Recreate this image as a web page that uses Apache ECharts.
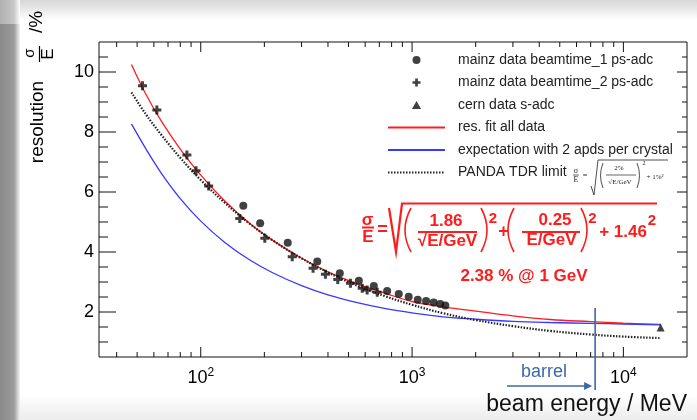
<!DOCTYPE html>
<html><head><meta charset="utf-8">
<script src="https://cdn.jsdelivr.net/npm/echarts@6/dist/echarts.min.js"></script>
<style>html,body{margin:0;padding:0;background:#fff}#c{width:697px;height:420px}</style>
</head><body><div id="c"></div>
<script>
const FONT = '"Liberation Sans", Arial, Helvetica, sans-serif';

// ---------------- data ----------------
const mainz1Energy = [159, 191, 258, 356, 455, 560, 659, 762, 865, 964, 1064, 1165, 1265, 1359, 1437];
const mainz1Res    = [5.54, 4.96, 4.31, 3.68, 3.29, 3.04, 2.87, 2.70, 2.60, 2.51, 2.41, 2.37, 2.32, 2.27, 2.22];
const mainz2Energy = [53, 62, 86, 95, 109, 153, 201, 271, 340, 389, 445, 511, 581, 613, 684];
const mainz2Res    = [9.54, 8.73, 7.23, 6.71, 6.20, 5.12, 4.46, 3.84, 3.46, 3.26, 3.08, 2.96, 2.79, 2.73, 2.66];
const cernEnergy   = [15000];
const cernRes      = [1.48];
const curveEnergy  = [47, 55, 65, 80, 100, 130, 170, 220, 300, 400, 550, 750, 1000, 1400, 2000, 3000, 4500, 7000, 10000, 15000];
const fitRes       = [10.25, 9.26, 8.37, 7.43, 6.56, 5.70, 4.96, 4.38, 3.79, 3.34, 2.94, 2.62, 2.35, 2.17, 2.03, 1.87, 1.75, 1.68, 1.63, 1.59];
const expectRes    = [8.27, 7.44, 6.63, 5.78, 5.03, 4.32, 3.74, 3.30, 2.88, 2.57, 2.31, 2.11, 1.97, 1.84, 1.76, 1.69, 1.65, 1.62, 1.60, 1.57];
const pandaRes     = [9.32, 8.59, 7.91, 7.14, 6.40, 5.64, 4.95, 4.38, 3.79, 3.32, 2.88, 2.52, 2.24, 1.96, 1.73, 1.53, 1.37, 1.25, 1.18, 1.13];
const barrelEnergy = 7350;

// axes
const xMin = 33, xMax = 20000, yMin = 0.5, yMax = 11, yStep = 0.5;
const xTickExponents = [2, 3, 4];
const xMajorTicks = [100, 1000, 10000];
const xMinorTicks = [40, 50, 60, 70, 80, 90, 200, 300, 400, 500, 600, 700, 800, 900, 2000, 3000, 4000, 5000, 6000, 7000, 8000, 9000];
const yMajorTicks = [2, 4, 6, 8, 10];
const yMinorTicks = [1, 1.5, 2.5, 3, 3.5, 4.5, 5, 5.5, 6.5, 7, 7.5, 8.5, 9, 9.5, 10.5];

const names = ['mainz data beamtime_1 ps-adc', 'mainz data beamtime_2 ps-adc', 'cern data s-adc',
               'res. fit all data', 'expectation with 2 apds per crystal', 'PANDA TDR limit'];

const zip = (a, b) => a.map((v, i) => [v, b[i]]);
const plusPath = 'path://M3,0H6V3H9V6H6V9H3V6H0V3H3Z';
const triPath = 'path://M4,0L8,7H0Z';

const tickData = [];
xMajorTicks.forEach(v => { tickData.push([v, yMin, 1, 0]); tickData.push([v, yMax, 1, 1]); });
xMinorTicks.forEach(v => { tickData.push([v, yMin, 0, 0]); tickData.push([v, yMax, 0, 1]); });
yMajorTicks.forEach(v => { tickData.push([xMin, v, 1, 2]); tickData.push([xMax, v, 1, 3]); });
yMinorTicks.forEach(v => { tickData.push([xMin, v, 0, 2]); tickData.push([xMax, v, 0, 3]); });

const chart = echarts.init(document.getElementById('c'), null, {renderer: 'canvas', width: 697, height: 420});

const RED = '#ff1c1c';
function txt(text, x, y, size, opt) {
  opt = opt || {};
  return {
    type: 'text', x: x, y: y, z: 100, rotation: opt.rotation || 0,
    style: {
      text: text, fill: opt.color || '#000',
      font: (opt.bold ? 'bold ' : '') + size + 'px ' + (opt.family || FONT),
      align: opt.align || 'center', textAlign: opt.align || 'center',
      verticalAlign: 'middle', textVerticalAlign: 'middle'
    }
  };
}
function seg(x1, y1, x2, y2, color, w) {
  return {type: 'line', z: 100, shape: {x1, y1, x2, y2}, style: {stroke: color, lineWidth: w}};
}
function paren(x, yTop, yBot, cx, color, w) {
  return {type: 'bezierCurve', z: 100, shape: {x1: x, y1: yTop, x2: x, y2: yBot, cpx1: cx, cpy1: (yTop + yBot) / 2},
          style: {stroke: color, lineWidth: w, fill: null}};
}

const option = {
  animation: false,
  backgroundColor: '#fff',
  grid: {left: 99, top: 42, width: 588, height: 315, show: true, borderColor: '#111', borderWidth: 1, backgroundColor: '#fff'},
  legend: {
    orient: 'vertical', left: 382, top: 48, itemWidth: 57, itemHeight: 8, itemGap: 8.5,
    textStyle: {fontSize: 14, color: '#222', fontFamily: FONT, padding: [0, 0, 0, 8]},
    data: [
      {name: names[0]},
      {name: names[1]},
      {name: names[2], icon: triPath},
      {name: names[3], itemStyle: {opacity: 0}},
      {name: names[4], itemStyle: {opacity: 0}},
      {name: names[5], itemStyle: {opacity: 0}}
    ]
  },
  xAxis: {
    type: 'log', logBase: 10, min: xMin, max: xMax,
    axisLine: {show: false}, axisTick: {show: false}, splitLine: {show: false},
    axisLabel: {
      margin: 10, color: '#000',
      formatter: function (v) {
        const e = Math.log10(v), r = Math.round(e);
        if (Math.abs(e - r) < 1e-6 && xTickExponents.indexOf(r) >= 0) return '{b|10}{s|' + r + '}';
        return '';
      },
      rich: {
        b: {fontSize: 18, fontFamily: FONT, color: '#000', lineHeight: 22},
        s: {fontSize: 12, fontFamily: FONT, color: '#000', verticalAlign: 'top', lineHeight: 14}
      }
    }
  },
  yAxis: {
    type: 'value', min: yMin, max: yMax, interval: yStep,
    axisLine: {show: false}, axisTick: {show: false}, splitLine: {show: false},
    axisLabel: {
      margin: 5, color: '#000', fontSize: 18, fontFamily: FONT,
      formatter: v => (Math.abs(v % 2) < 1e-9 ? String(Math.round(v)) : '')
    }
  },
  series: [
    {name: names[3], type: 'line', data: zip(curveEnergy, fitRes), smooth: 0.4, symbol: 'none',
     lineStyle: {color: RED, width: 1.3}, itemStyle: {color: RED}, z: 3},
    {name: names[4], type: 'line', data: zip(curveEnergy, expectRes), smooth: 0.4, symbol: 'none',
     lineStyle: {color: '#3838ff', width: 1.3}, itemStyle: {color: '#3838ff'}, z: 3},
    {name: names[5], type: 'line', data: zip(curveEnergy, pandaRes), smooth: 0.4, symbol: 'none',
     lineStyle: {color: '#222', width: 2.2, type: [1.5, 1.5]}, itemStyle: {color: '#222'}, z: 3},
    {name: names[0], type: 'scatter', data: zip(mainz1Energy, mainz1Res), symbol: 'circle', symbolSize: 8,
     itemStyle: {color: '#111'}, z: 5},
    {name: names[1], type: 'scatter', data: zip(mainz2Energy, mainz2Res), symbol: plusPath, symbolSize: 9,
     itemStyle: {color: '#111'}, z: 5},
    {name: names[2], type: 'scatter', data: zip(cernEnergy, cernRes), symbol: triPath, symbolSize: 8,
     itemStyle: {color: '#111'}, z: 5},
    {type: 'custom', coordinateSystem: 'cartesian2d', silent: true, clip: false, data: tickData, z: 6,
     renderItem: function (params, api) {
       const p = api.coord([api.value(0), api.value(1)]);
       const major = api.value(2), side = api.value(3);
       let x2 = p[0], y2 = p[1];
       if (side === 0) y2 = p[1] - (major ? 10 : 5);
       else if (side === 1) y2 = p[1] + (major ? 10 : 5);
       else if (side === 2) x2 = p[0] + (major ? 17 : 9);
       else x2 = p[0] - (major ? 10 : 5);
       return {type: 'line', shape: {x1: p[0], y1: p[1], x2: x2, y2: y2}, style: {stroke: '#111', lineWidth: 1}};
     }}
  ]
};
chart.setOption(option);

// annotations positioned through the axes
const bx = chart.convertToPixel({xAxisIndex: 0}, barrelEnergy);
const barrelTop = chart.convertToPixel({yAxisIndex: 0}, 2.13);
const BLUE2 = '#3d68a8';

const graphics = [
  // slide-like background
  {type: 'rect', z: -10, shape: {x: 0, y: 0, width: 697, height: 20},
   style: {fill: new echarts.graphic.LinearGradient(0, 0, 0, 1, [{offset: 0, color: '#d6d6d6'}, {offset: 1, color: '#ffffff'}])}},
  {type: 'rect', z: -10, shape: {x: 0, y: 395, width: 697, height: 25},
   style: {fill: new echarts.graphic.LinearGradient(0, 0, 0, 1, [{offset: 0, color: '#ffffff'}, {offset: 1, color: '#ececec'}])}},
  {type: 'rect', z: -9, shape: {x: 0, y: 0, width: 20, height: 420},
   style: {fill: new echarts.graphic.LinearGradient(0, 0, 1, 0, [{offset: 0, color: '#b0b0b0'}, {offset: 0.7, color: '#c8c8c8'}, {offset: 1, color: '#ffffff'}])}},
  {type: 'rect', z: -8, shape: {x: 0, y: 24, width: 20, height: 396},
   style: {fill: new echarts.graphic.LinearGradient(0, 0, 1, 0, [{offset: 0, color: '#8a8a8a'}, {offset: 0.7, color: '#9c9c9c'}, {offset: 1, color: '#f4f4f4'}])}},

  // y-axis title
  txt('resolution', 38, 122, 19, {rotation: Math.PI / 2}),
  txt('σ', 30, 53, 15, {rotation: Math.PI / 2}),
  txt('E', 48, 54, 17, {rotation: Math.PI / 2}),
  seg(39.5, 46, 39.5, 62, '#000', 1.2),
  txt('/%', 37, 22, 19, {rotation: Math.PI / 2}),

  // x-axis title
  txt('beam energy / MeV', 687, 405, 23, {align: 'right', color: '#111'}),

  // barrel marker
  seg(bx, barrelTop, bx, 390, BLUE2, 1.6),
  seg(507, 386, bx - 9, 386, BLUE2, 1.6),
  {type: 'polygon', z: 100, shape: {points: [[bx - 3, 386], [bx - 11, 382], [bx - 11, 390]]}, style: {fill: BLUE2}},
  txt('barrel', 544, 372, 18, {color: BLUE2}),

  // fit formula (red)
  txt('σ', 367.5, 220, 17, {bold: true, color: RED}),
  seg(362, 227.5, 374, 227.5, RED, 2),
  txt('E', 368, 237.5, 17, {bold: true, color: RED}),
  txt('=', 382.5, 230, 18, {bold: true, color: RED}),
  {type: 'polyline', z: 100, shape: {points: [[389, 208], [396, 252], [402, 203.5], [657, 203.5]]},
   style: {stroke: RED, lineWidth: 2.2, fill: null}},
  paren(411, 208, 252, 399, RED, 1.6),
  txt('1.86', 446, 221, 17, {bold: true, color: RED}),
  seg(418, 232, 477, 232, RED, 2),
  txt('√E/GeV', 447.5, 241.5, 17, {bold: true, color: RED}),
  paren(481, 208, 252, 493, RED, 1.6),
  txt('2', 493, 219, 15, {bold: true, color: RED}),
  txt('+', 503.5, 232, 18, {bold: true, color: RED}),
  paren(514, 208, 252, 502, RED, 1.6),
  txt('0.25', 555, 220, 17, {bold: true, color: RED}),
  seg(522, 232, 580, 232, RED, 2),
  txt('E/GeV', 551.5, 240.5, 17, {bold: true, color: RED}),
  paren(581, 208, 252, 593, RED, 1.6),
  txt('2', 592.5, 219, 15, {bold: true, color: RED}),
  txt('+ 1.46', 623, 232, 17, {bold: true, color: RED}),
  txt('2', 652, 221, 15, {bold: true, color: RED}),
  txt('2.38 % @ 1 GeV', 524, 276, 17, {bold: true, color: RED}),

  // small PANDA formula in the legend
  txt('σ', 576, 171, 8, {family: '"Liberation Serif", serif', color: '#222'}),
  seg(573, 175, 579, 175, '#222', 0.7),
  txt('E', 576, 180, 8, {family: '"Liberation Serif", serif', color: '#222'}),
  txt('=', 585, 176, 8, {family: '"Liberation Serif", serif', color: '#222'}),
  {type: 'polyline', z: 100, shape: {points: [[591, 186], [594, 195], [598, 160], [668, 160]]},
   style: {stroke: '#222', lineWidth: 0.8, fill: null}},
  paren(603, 163, 188, 598, '#222', 0.8),
  txt('2%', 619, 168, 7, {family: '"Liberation Serif", serif', color: '#222'}),
  seg(606, 175, 636, 175, '#222', 0.7),
  txt('√E/GeV', 620, 182, 7, {family: '"Liberation Serif", serif', color: '#222'}),
  paren(637, 163, 188, 642, '#222', 0.8),
  txt('2', 644, 163, 6, {family: '"Liberation Serif", serif', color: '#222'}),
  txt('+ 1%²', 655, 177, 7, {family: '"Liberation Serif", serif', color: '#222'})
];
chart.setOption({graphic: graphics});
</script>
</body></html>
